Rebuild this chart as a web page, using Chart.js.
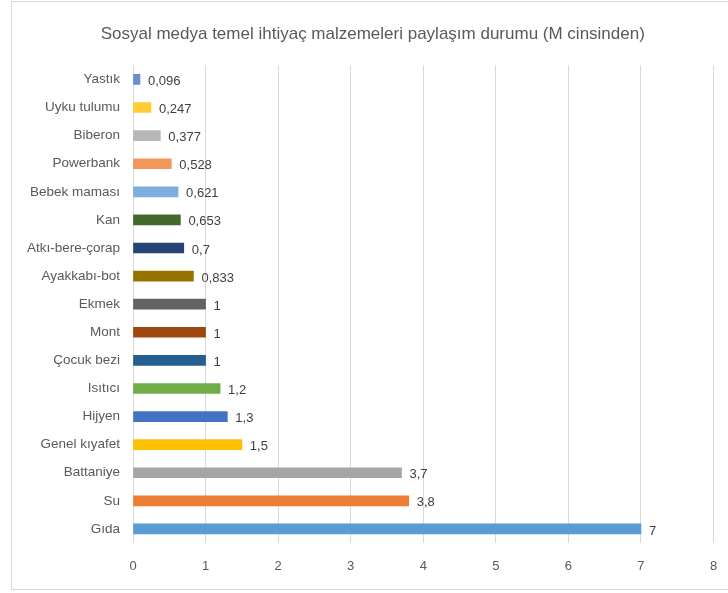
<!DOCTYPE html>
<html lang="tr">
<head>
<meta charset="utf-8">
<title>Sosyal medya temel ihtiyaç malzemeleri paylaşım durumu</title>
<script src="https://cdn.jsdelivr.net/npm/chart.js@4/dist/chart.umd.min.js"></script>
<style>
  html, body { margin: 0; padding: 0; background: #ffffff; }
  #wrap { width: 728px; height: 593px; position: relative; }
</style>
</head>
<body>
<div id="wrap"><canvas id="chart" width="728" height="593"></canvas></div>
<script>
// Shared items (millions), listed top to bottom
const categories = [
  'Yastık', 'Uyku tulumu', 'Biberon', 'Powerbank', 'Bebek maması', 'Kan',
  'Atkı-bere-çorap', 'Ayakkabı-bot', 'Ekmek', 'Mont', 'Çocuk bezi', 'Isıtıcı',
  'Hijyen', 'Genel kıyafet', 'Battaniye', 'Su', 'Gıda'
];
const values = [
  0.096, 0.247, 0.377, 0.528, 0.621, 0.653,
  0.7, 0.833, 1, 1, 1, 1.2,
  1.3, 1.5, 3.7, 3.8, 7
];
const barColors = [
  '#698ED0', '#FFCD33', '#B7B7B7', '#F1975A', '#7CAFDD', '#43682B',
  '#264478', '#997300', '#636363', '#9E480E', '#255E91', '#70AD47',
  '#4472C4', '#FFC000', '#A5A5A5', '#ED7D31', '#5B9BD5'
];
const xTicks = [0, 1, 2, 3, 4, 5, 6, 7, 8];
const chartTitle = 'Sosyal medya temel ihtiyaç malzemeleri paylaşım durumu (M cinsinden)';

const FONT = "'Liberation Sans', Arial, sans-serif";

// Comma decimal separator, as used in Turkish
const fmt = v => String(v).replace('.', ',');

// White background with a thin frame around the chart
const framePlugin = {
  id: 'frame',
  beforeDraw(chart) {
    const ctx = chart.ctx;
    ctx.save();
    ctx.fillStyle = '#ffffff';
    ctx.fillRect(0, 0, chart.width, chart.height);
    ctx.strokeStyle = '#d9d9d9';
    ctx.lineWidth = 1;
    ctx.strokeRect(11.5, 1.5, chart.width, 588);
    ctx.restore();
  }
};

// Nudge the title so it is centred inside the frame
const titleShift = {
  id: 'titleShift',
  afterLayout(chart) {
    const t = chart.titleBlock;
    if (t) { t.left += 16; t.right += 16; }
  }
};

// Value labels to the right of each bar
const valueLabels = {
  id: 'valueLabels',
  afterDatasetsDraw(chart) {
    const ctx = chart.ctx;
    const meta = chart.getDatasetMeta(0);
    ctx.save();
    ctx.font = '13px ' + FONT;
    ctx.fillStyle = '#404040';
    ctx.textAlign = 'left';
    ctx.textBaseline = 'middle';
    meta.data.forEach((bar, i) => {
      ctx.fillText(fmt(values[i]), bar.x + 8, bar.y + 2);
    });
    ctx.restore();
  }
};

new Chart(document.getElementById('chart'), {
  type: 'bar',
  data: {
    labels: categories,
    datasets: [{
      data: values,
      backgroundColor: barColors,
      borderWidth: 0,
      barThickness: 10
    }]
  },
  options: {
    indexAxis: 'y',
    responsive: false,
    animation: false,
    layout: { padding: { left: 0, right: 14.5, top: 0, bottom: 0 } },
    plugins: {
      legend: { display: false },
      tooltip: { enabled: false },
      title: {
        display: true,
        text: chartTitle,
        color: '#595959',
        font: { family: FONT, size: 17, weight: 'normal' },
        padding: { top: 24, bottom: 21 }
      }
    },
    scales: {
      x: {
        min: 0,
        max: 8,
        afterBuildTicks(scale) {
          scale.ticks = xTicks.map(v => ({ value: v }));
        },
        afterFit(scale) {
          scale.height = 50;
          scale.paddingLeft = 0;
          scale.paddingRight = 0;
        },
        grid: { color: '#d9d9d9', drawTicks: false },
        border: { display: false },
        ticks: {
          color: '#595959',
          padding: 16,
          font: { family: FONT, size: 13 }
        }
      },
      y: {
        afterFit(scale) { scale.width = 133; },
        grid: { display: false, drawTicks: false },
        border: { display: false },
        ticks: {
          color: '#595959',
          padding: 13,
          font: { family: FONT, size: 13.5 }
        }
      }
    }
  },
  plugins: [framePlugin, titleShift, valueLabels]
});
</script>
</body>
</html>
